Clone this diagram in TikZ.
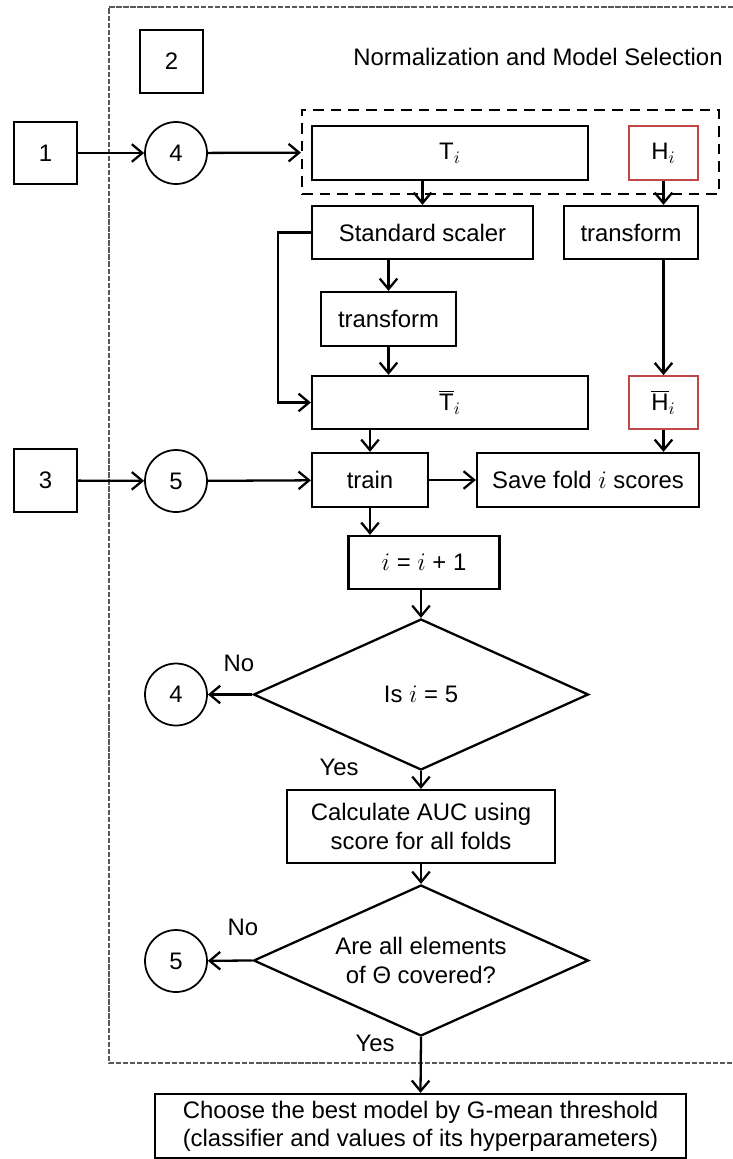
\documentclass[tikz,border=0pt]{standalone}
\usepackage{fontspec}
\setmainfont{Liberation Sans}
\usepackage{xcolor}
\usepackage{tikz}
\usetikzlibrary{shapes,arrows,positioning,calc,arrows.meta}
\definecolor{boxred}{RGB}{192,72,72}

\begin{document}
\begin{tikzpicture}[x=0.02cm, y=-0.02cm, font=\fontsize{13.6}{16}\selectfont,
    block/.style={draw, rectangle, line width=1.3pt, inner sep=0pt, align=center},
    redblock/.style={draw=boxred, rectangle, line width=1pt, minimum width=1.38cm, inner sep=0pt},
    numbox/.style={draw, rectangle, line width=0.9pt, minimum width=1.26cm, minimum height=1.24cm},
    link/.style={draw, circle, line width=1pt, minimum size=1.24cm, inner sep=0pt},
    decision/.style={draw, diamond, line width=1.3pt, aspect=2.2, minimum width=6.7cm, minimum height=3.02cm, inner sep=0pt, align=center},
    arr/.style={-{Straight Barb[length=6pt,width=10pt]}, line width=1.3pt}]
    \useasboundingbox (0,0) rectangle (733,1159);

    % outer frame (cut off on the right)
    \draw [black!65, line width=0.6pt, dash pattern=on 3pt off 1pt] (733,7) -- (109,7) -- (109,1063) -- (733,1063);
    \node [numbox, minimum height=1.26cm] (two) at (171.5,61.5) {2};
    \node (title) at (538,57) {Normalization and Model Selection};

    % inputs
    \node [numbox] (one) at (45.5,153) {1};
    \node [link] (linkA) at (176,153) {4};
    \node [numbox, minimum height=1.26cm] (three) at (45.5,480.5) {3};
    \node [link] (linkB) at (176,481) {5};

    % fold i
    \node [draw, line width=1.3pt, dash pattern=on 6pt off 4pt, minimum width=8.34cm, minimum height=1.68cm] (fold) at (510.5,152) {};
    \node [block, minimum width=5.52cm, minimum height=1.08cm] (Ti) at (450,153) {T$_i$};
    \node [redblock, minimum height=1.08cm] (Hi) at (663.5,153) {H$_i$};
    \node [block, minimum width=4.42cm, minimum height=1.06cm] (scaler) at (422.5,232.5) {Standard scaler};
    \node [block, minimum width=2.68cm, minimum height=1.06cm] (transH) at (631,232.5) {transform};
    \node [block, minimum width=2.70cm, minimum height=1.08cm] (transT) at (388.5,319) {transform};
    \node [block, minimum width=5.52cm, minimum height=1.06cm] (Tbar) at (450,402.5) {$\overline{\mbox{T}}_i$};
    \node [redblock, minimum height=1.06cm] (Hbar) at (663.5,402.5) {$\overline{\mbox{H}}_i$};
    \node [block, minimum width=2.32cm, minimum height=1.08cm] (train) at (370,480) {train};
    \node [block, minimum width=4.44cm, minimum height=1.08cm] (save) at (588,480) {Save fold $i$ scores};
    \node [block, minimum width=3.02cm, minimum height=1.06cm] (inc) at (424,562.5) {$i$ = $i$ + 1};

    % checks
    \node [decision] (isfive) at (421,694.5) {Is $i$ = 5};
    \node [link] (linkC) at (176,694.5) {4};
    \node [block, minimum width=5.36cm, minimum height=1.46cm] (auc) at (421,826.5) {Calculate AUC using\\score for all folds};
    \node [decision] (covered) at (421,960.5) {Are all elements\\of Θ covered?};
    \node [link] (linkD) at (176,961) {5};
    \node [block, minimum width=10.62cm, minimum height=1.28cm] (best) at (420.5,1126) {Choose the best model by G-mean threshold\\(classifier and values of its hyperparameters)};

    \node (noA) at (239,663) {No};
    \node (yesA) at (339,767) {Yes};
    \node (noB) at (243,927) {No};
    \node (yesB) at (375,1043) {Yes};

    \draw [arr] (one) -- (linkA);
    \draw [arr] (linkA) -- (fold);
    \draw [arr] (three) -- (linkB);
    \draw [arr] (linkB) -- (train);
    \draw [arr] (Ti.south -| scaler.north) -- (scaler.north);
    \draw [arr] (Hi.south) -- (Hi.south |- transH.north);
    \draw [arr] (scaler.south -| transT.north) -- (transT.north);
    \draw [arr] (transT.south) -- (transT.south |- Tbar.north);
    \draw [arr] (scaler.west) -- ++(-33,0) |- (Tbar.west);
    \draw [arr] (transH.south -| Hbar.north) -- (Hbar.north);
    \draw [arr] (Tbar.south -| train.north) -- (train.north);
    \draw [arr] (Hbar.south) -- (Hbar.south |- save.north);
    \draw [arr] (train) -- (save);
    \draw [arr] (train.south) -- (train.south |- inc.north);
    \draw [arr] (inc.south -| isfive.north) -- (isfive.north);
    \draw [arr] (isfive.west) -- (linkC);
    \draw [arr] (isfive.south) -- (auc.north);
    \draw [arr] (auc.south) -- (covered.north);
    \draw [arr] (covered.west) -- (linkD);
    \draw [arr] (covered.south) -- (best.north);

\end{tikzpicture}
\end{document}
